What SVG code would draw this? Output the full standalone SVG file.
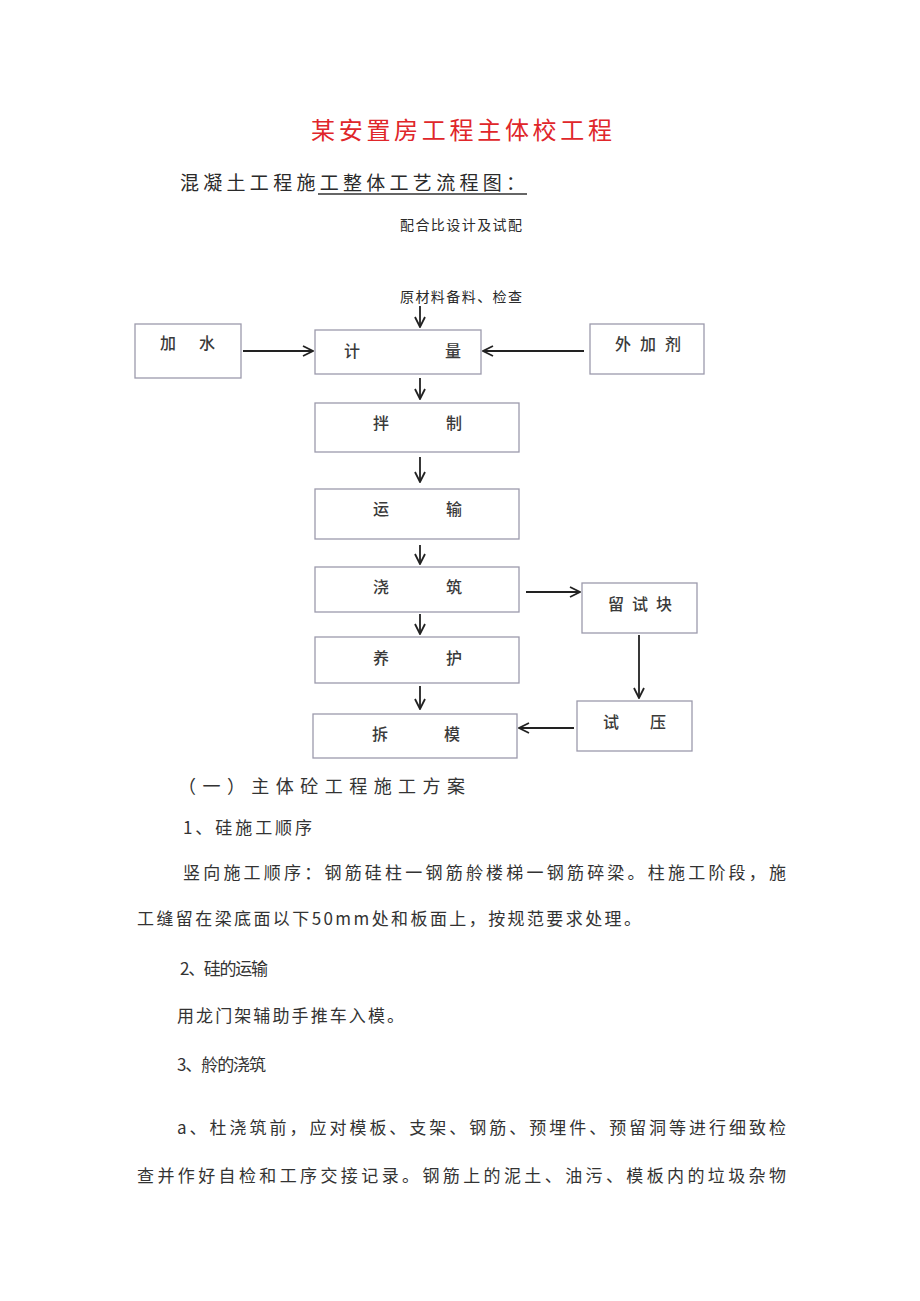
<svg xmlns="http://www.w3.org/2000/svg" width="920" height="1301" viewBox="0 0 920 1301">
<style>
text{font-family:"Noto Sans CJK SC","Liberation Serif",sans-serif;fill:#2a2a2a}
.t{fill:#e0262a;font-size:24px}
.h{font-size:19px}
.s{font-size:14px}
.n{font-size:16px;fill:#3a3a3a;font-weight:500}
.b{font-size:17px;fill:#333}
.box{fill:#fff;stroke:#9c9aac;stroke-width:1.3}
.c{stroke:#222;stroke-width:1.8;fill:none}
</style>
<defs>
<marker id="a" viewBox="0 0 12 12" refX="11" refY="6" markerWidth="12" markerHeight="12" markerUnits="userSpaceOnUse" orient="auto">
<polyline points="1,1 11,6 1,11" fill="none" stroke="#222" stroke-width="1.8"/>
</marker>
</defs>
<rect width="920" height="1301" fill="#fff"/>
<text class="t" x="311" y="139" textLength="301">某安置房工程主体校工程</text>
<text class="h" x="180" y="190" textLength="345">混凝土工程施工整体工艺流程图：</text>
<line x1="318" y1="194" x2="527" y2="194" stroke="#333" stroke-width="1.3"/>
<text class="s" x="400" y="230" textLength="122">配合比设计及试配</text>
<text class="s" x="400" y="302" textLength="122">原材料备料、检查</text>

<g id="n_jiashui"><rect class="box" x="135" y="324" width="106" height="54"/><text class="n" x="160" y="349">加</text><text class="n" x="199" y="349">水</text></g>
<g id="n_jiliang"><rect class="box" x="315" y="330" width="166" height="44"/><text class="n" x="344" y="357">计</text><text class="n" x="445" y="357">量</text></g>
<g id="n_waijiaji"><rect class="box" x="590" y="324" width="114" height="50"/><text class="n" x="615" y="350" textLength="66">外加剂</text></g>
<g id="n_banzhi"><rect class="box" x="315" y="403" width="204" height="49"/><text class="n" x="373" y="429">拌</text><text class="n" x="446" y="429">制</text></g>
<g id="n_yunshu"><rect class="box" x="315" y="489" width="204" height="50"/><text class="n" x="373" y="515">运</text><text class="n" x="446" y="515">输</text></g>
<g id="n_jiaozhu"><rect class="box" x="315" y="567" width="204" height="45"/><text class="n" x="373" y="593">浇</text><text class="n" x="446" y="593">筑</text></g>
<g id="n_liushikuai"><rect class="box" x="582" y="583" width="115" height="50"/><text class="n" x="608" y="610" textLength="64">留试块</text></g>
<g id="n_yanghu"><rect class="box" x="315" y="637" width="204" height="46"/><text class="n" x="373" y="664">养</text><text class="n" x="446" y="664">护</text></g>
<g id="n_chaimo"><rect class="box" x="313" y="714" width="204" height="44"/><text class="n" x="372" y="740">拆</text><text class="n" x="444" y="740">模</text></g>
<g id="n_shiya"><rect class="box" x="577" y="701" width="115" height="50"/><text class="n" x="603" y="728">试</text><text class="n" x="650" y="728">压</text></g>

<g id="connectors">
<line class="c" x1="420" y1="306" x2="420" y2="327" marker-end="url(#a)"/>
<line class="c" x1="243" y1="351" x2="313" y2="351" marker-end="url(#a)"/>
<line class="c" x1="584" y1="351" x2="483" y2="351" marker-end="url(#a)"/>
<line class="c" x1="420" y1="378" x2="420" y2="399" marker-end="url(#a)"/>
<line class="c" x1="420" y1="457" x2="420" y2="482" marker-end="url(#a)"/>
<line class="c" x1="420" y1="545" x2="420" y2="564" marker-end="url(#a)"/>
<line class="c" x1="526" y1="592" x2="580" y2="592" marker-end="url(#a)"/>
<line class="c" x1="420" y1="614" x2="420" y2="634" marker-end="url(#a)"/>
<line class="c" x1="639" y1="635" x2="639" y2="698" marker-end="url(#a)"/>
<line class="c" x1="420" y1="686" x2="420" y2="709" marker-end="url(#a)"/>
<line class="c" x1="574" y1="728" x2="519" y2="728" marker-end="url(#a)"/>
</g>

<text class="b" x="178" y="793" textLength="287" style="font-size:18px">（一）主体砼工程施工方案</text>
<text class="b" x="183" y="834" textLength="129">1、硅施工顺序</text>
<text class="b" x="183" y="879" textLength="603">竖向施工顺序：钢筋硅柱一钢筋舲楼梯一钢筋碎梁。柱施工阶段，施</text>
<text class="b" x="137" y="925" textLength="504">工缝留在梁底面以下50mm处和板面上，按规范要求处理。</text>
<text class="b" x="180" y="975" textLength="88">2、硅的运输</text>
<text class="b" x="177" y="1022" textLength="227">用龙门架辅助手推车入模。</text>
<text class="b" x="177" y="1071" textLength="89">3、舲的浇筑</text>
<text class="b" x="177" y="1134" textLength="609">a、杜浇筑前，应对模板、支架、钢筋、预埋件、预留洞等进行细致检</text>
<text class="b" x="137" y="1182" textLength="649">查并作好自检和工序交接记录。钢筋上的泥土、油污、模板内的垃圾杂物</text>
</svg>
